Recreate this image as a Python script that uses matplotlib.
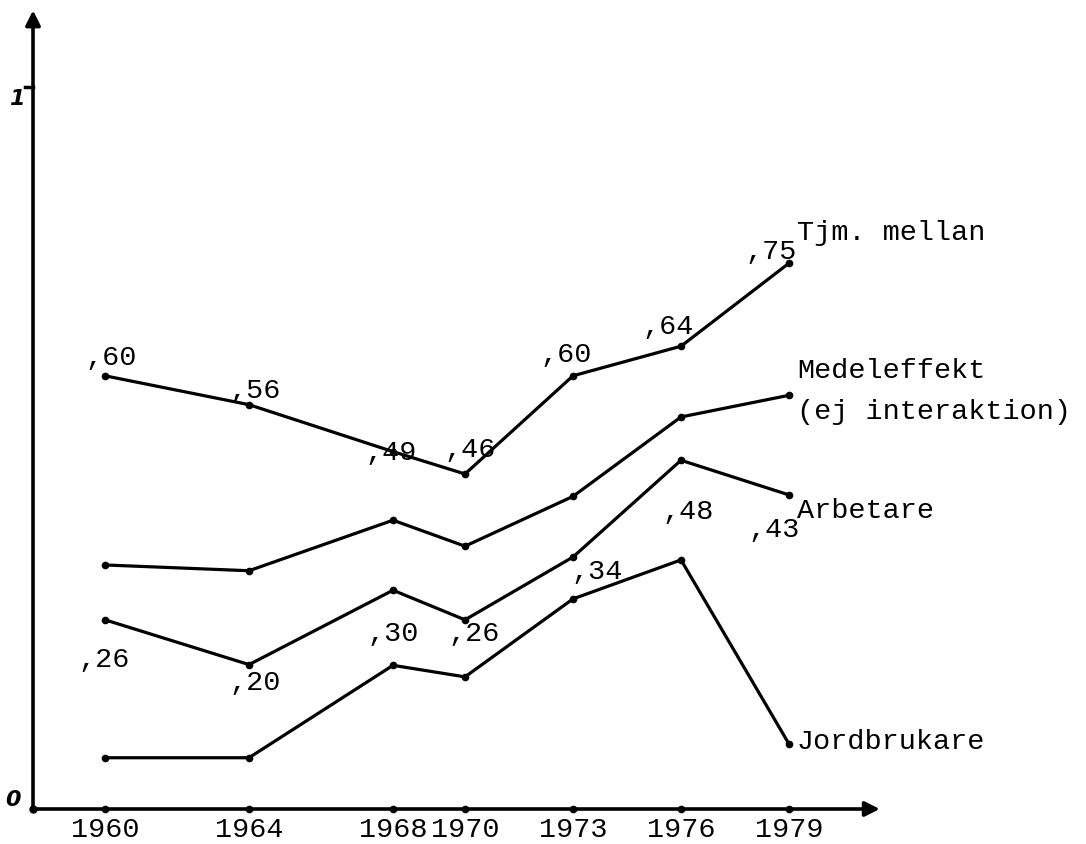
import matplotlib
matplotlib.use("Agg")
import matplotlib.pyplot as plt

years = [1960, 1964, 1968, 1970, 1973, 1976, 1979]
tjm = [0.60, 0.56, 0.495, 0.464, 0.60, 0.641, 0.756]
medel = [0.338, 0.330, 0.400, 0.364, 0.433, 0.543, 0.573]
arbetare = [0.262, 0.200, 0.303, 0.262, 0.349, 0.483, 0.435]
jord = [0.071, 0.071, 0.199, 0.183, 0.291, 0.345, 0.090]

tjm_labels = [",60", ",56", ",49", ",46", ",60", ",64", ",75"]
arb_labels = [",26", ",20", ",30", ",26", ",34", ",48", ",43"]
series_names = ["Tjm. mellan", "Medeleffekt", "(ej interaktion)", "Arbetare", "Jordbrukare"]

# label offsets (pixels) relative to points
tjm_off = [(-20, 19), (-20, 15), (-28, 0), (-21, 25), (-33, 22), (-39, 20), (-44, 12)]
arb_off = [(-27, -39), (-20, -17), (-26, -43), (-17, -13), (-2, -14), (-19, -51), (-41, -34)]

FONT = "Liberation Mono"
FS = 20.5

fig = plt.figure(figsize=(10.86, 8.45), dpi=100)
ax = fig.add_axes([0, 0, 1, 1])
ax.set_xlim(1957.083, 1957.083 + 1086 / 36.0)
ax.set_ylim(-35 / 722.0, 810 / 722.0)
ax.axis("off")

x0 = 1958.0
# axes with arrows
ax.annotate("", xy=(x0, 1.11), xytext=(x0, 0),
            arrowprops=dict(arrowstyle="-|>", lw=2.6, color="black", mutation_scale=22))
ax.annotate("", xy=(1981.6, 0), xytext=(x0, 0),
            arrowprops=dict(arrowstyle="-|>", lw=2.6, color="black", mutation_scale=22))
ax.plot([x0 - 0.22, x0], [1, 1], color="black", lw=2.5)
ax.plot(years, [0] * len(years), "o", color="black", ms=4.5, ls="none")
ax.plot([x0], [0], "o", color="black", ms=5)

for yr in years:
    ax.text(yr, -0.028, str(yr), ha="center", va="center", family=FONT, fontsize=FS)
ax.text(1957.55, 0.985, "1", ha="center", va="center", family="DejaVu Sans",
        fontsize=16, fontweight="bold", style="italic")
ax.text(1957.45, 0.014, "0", ha="center", va="center", family="DejaVu Sans",
        fontsize=16, fontweight="bold", style="italic")

for s in [tjm, medel, arbetare, jord]:
    ax.plot(years, s, color="black", lw=2.3, marker="o", ms=4.5, solid_joinstyle="round")

for yr, v, lab, off in zip(years, tjm, tjm_labels, tjm_off):
    ax.annotate(lab, (yr, v), xytext=off, textcoords="offset pixels",
                ha="left", va="center", family=FONT, fontsize=FS)
for yr, v, lab, off in zip(years, arbetare, arb_labels, arb_off):
    ax.annotate(lab, (yr, v), xytext=off, textcoords="offset pixels",
                ha="left", va="center", family=FONT, fontsize=FS)

name_anchor = [tjm, medel, medel, arbetare, jord]
name_off = [(8, 31), (8, 25), (8, -16), (8, -15), (8, 3)]
for s, name, off in zip(name_anchor, series_names, name_off):
    ax.annotate(name, (years[-1], s[-1]), xytext=off, textcoords="offset pixels",
                ha="left", va="center", family=FONT, fontsize=FS)

fig.savefig("out.png", dpi=100)
